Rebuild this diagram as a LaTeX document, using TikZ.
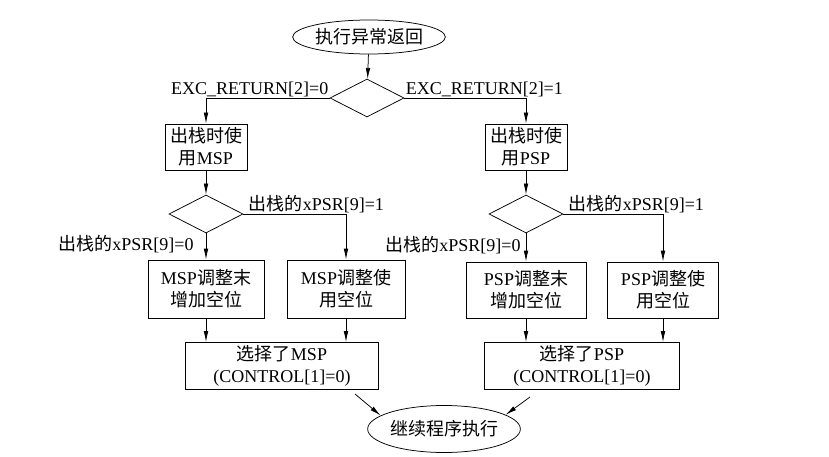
\documentclass[tikz,border=0pt]{standalone}
\usepackage{fontspec}
\setmainfont{Liberation Serif}
\newfontfamily\cjk{Noto Sans CJK SC}
\newcommand{\cn}[1]{{\cjk #1}}
\usetikzlibrary{shapes.geometric,arrows.meta}

\tikzset{
  flow/.style={draw, line width=0.75pt, -{Latex[length=11pt,width=4.6pt]}},
  box/.style={draw, line width=0.75pt, rectangle, align=center, inner sep=0pt},
  dec/.style={draw, line width=0.75pt, diamond, inner sep=0pt, minimum width=74pt, minimum height=38pt},
  term/.style={draw, line width=0.75pt, ellipse, inner sep=0pt},
  lbl/.style={inner sep=1pt},
}

\begin{document}
\begin{tikzpicture}[x=1pt, y=-1pt, font=\fontsize{18}{22}\selectfont]
    \useasboundingbox (0,0) rectangle (829,457);

    % --- Start and first decision ---
    \node[term, minimum width=142pt, minimum height=34pt] (start) at (369,37) {\cn{执行异常返回}};
    \node[dec] (sel) at (367,98) {};
    \node[box, minimum width=82pt, minimum height=46pt] (popm) at (206,147) {\cn{出栈时使}\\\cn{用}MSP};
    \node[box, minimum width=82pt, minimum height=46pt] (popp) at (526,147) {\cn{出栈时使}\\\cn{用}PSP};
    \draw[flow] (start) -- (sel);
    \draw[flow] (sel.west) -| (popm.north) node[lbl, pos=0, anchor=south east] {EXC\_RETURN[2]=0};
    \draw[flow] (sel.east) -| (popp.north) node[lbl, pos=0, anchor=south west] {EXC\_RETURN[2]=1};
    % ---

    % --- xPSR[9] decisions ---
    \node[dec] (dm) at (206,214) {};
    \node[dec] (dp) at (526,214) {};
    \draw[flow] (popm) -- (dm);
    \draw[flow] (popp) -- (dp);
    \node[box, minimum width=116pt, minimum height=58pt] (mnp) at (206,289) {MSP\cn{调整末}\\\cn{增加空位}};
    \node[box, minimum width=118pt, minimum height=58pt] (mpd) at (346,289) {MSP\cn{调整使}\\\cn{用空位}};
    \node[box, minimum width=120pt, minimum height=56pt] (pnp) at (526,290) {PSP\cn{调整末}\\\cn{增加空位}};
    \node[box, minimum width=111pt, minimum height=56pt] (ppd) at (663,290) {PSP\cn{调整使}\\\cn{用空位}};
    \draw[flow] (dm.south) -- (mnp.north) node[lbl, pos=0.4, left=11pt] {\cn{出栈的}xPSR[9]=0};
    \draw[flow] (dm.east) -| (mpd.north) node[lbl, pos=0, anchor=south west, xshift=4pt] {\cn{出栈的}xPSR[9]=1};
    \draw[flow] (dp.south) -- (pnp.north) node[lbl, pos=0.4, left=4pt] {\cn{出栈的}xPSR[9]=0};
    \draw[flow] (dp.east) -| (ppd.north) node[lbl, pos=0, anchor=south west, xshift=4pt] {\cn{出栈的}xPSR[9]=1};
    % ---

    % --- Selected stack pointer and end ---
    \node[box, minimum width=193pt, minimum height=47pt] (selm) at (282,366) {\cn{选择了}MSP\\(CONTROL[1]=0)};
    \node[box, minimum width=195pt, minimum height=47pt] (selp) at (582,366) {\cn{选择了}PSP\\(CONTROL[1]=0)};
    \draw[flow] (mnp.south) -- (mnp.south |- selm.north);
    \draw[flow] (mpd.south) -- (mpd.south |- selm.north);
    \draw[flow] (pnp.south) -- (pnp.south |- selp.north);
    \draw[flow] (ppd.south) -- (ppd.south |- selp.north);
    \node[term, minimum width=142pt, minimum height=47pt] (cont) at (444,429) {\cn{继续程序执行}};
    \coordinate (mfrom) at (355,394);
    \coordinate (pfrom) at (530,397);
    \draw[flow] (mfrom) -- (cont.168);
    \draw[flow] (pfrom) -- (cont.13);
    % ---
\end{tikzpicture}
\end{document}
